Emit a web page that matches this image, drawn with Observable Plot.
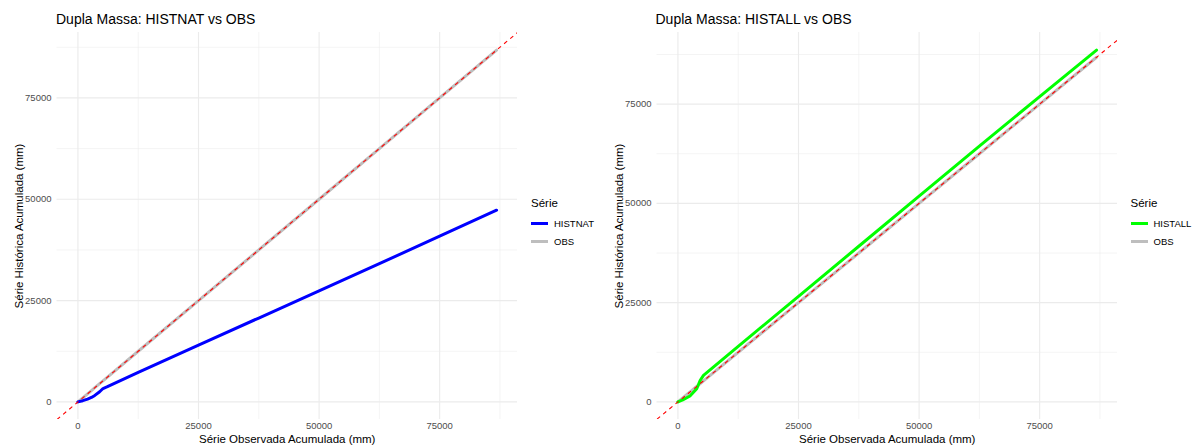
<!DOCTYPE html>
<html>
<head>
<meta charset="utf-8">
<script src="https://cdn.jsdelivr.net/npm/d3@7"></script>
<script src="https://cdn.jsdelivr.net/npm/@observablehq/plot@0.6"></script>
<style>
  html, body { margin: 0; padding: 0; background: #fff; }
  body { font-family: "Liberation Sans", Arial, Helvetica, sans-serif; }
  #wrap { position: relative; width: 1199px; height: 446px; overflow: hidden; }
  .panel { position: absolute; top: 0; width: 600px; height: 446px; }
  .title { position: absolute; left: 56px; top: 11px; font-size: 14px; color: #000; white-space: nowrap; }
  .legend { position: absolute; top: 197px; font-size: 9.5px; color: #000; }
  .legend .lt { font-size: 11.5px; margin-bottom: 6px; }
  .legend .row { display: flex; align-items: center; height: 17.5px; }
  .legend .key { width: 17px; height: 3px; margin-right: 6px; }
</style>
</head>
<body>
<div id="wrap"></div>
<script>
// Cumulative observed series (x axis, mm)
const obsCum = [0, 1000, 2000, 2800, 3500, 4500, 5200, 6000, 12500, 25000, 37500, 50000, 62500, 75000, 86800];
// OBS vs OBS (identical cumulative values)
const obsVsObs = [0, 1000, 2000, 2800, 3500, 4500, 5200, 6000, 12500, 25000, 37500, 50000, 62500, 75000, 86800];
// Cumulative HISTNAT
const histnatCum = [0, 300, 700, 1100, 1600, 2500, 3300, 3700, 7300, 14000, 20700, 27400, 34100, 40900, 47300];
// HISTALL paired with its own observed cumulative values
const obsCumAll = [0, 1000, 2500, 3900, 4600, 5300, 12500, 25000, 37500, 50000, 62500, 75000, 86800];
const histallCum = [0, 500, 1500, 3300, 5400, 6700, 14000, 26600, 39200, 51800, 64400, 76900, 88600];

const majorTicks = [0, 25000, 50000, 75000];
const minorTicks = [12500, 37500, 62500, 87500];

const panels = [
  {title: "Dupla Massa: HISTNAT vs OBS", name: "HISTNAT", color: "#0000FF",
   histX: obsCum, histY: histnatCum},
  {title: "Dupla Massa: HISTALL vs OBS", name: "HISTALL", color: "#00FF00",
   histX: obsCumAll, histY: histallCum}
];

const wrap = document.getElementById("wrap");
const font = '"Liberation Sans", Arial, Helvetica, sans-serif';

panels.forEach((p, i) => {
  const hist = p.histX.map((x, k) => ({x, y: p.histY[k], s: p.name}));
  const obs = obsCum.map((x, k) => ({x, y: obsVsObs[k], s: "OBS"}));
  const all = hist.concat(obs);
  const xmax = d3.max(all, d => d.x), xmin = d3.min(all, d => d.x);
  const ymax = d3.max(all, d => d.y), ymin = d3.min(all, d => d.y);
  const xd = [xmin - 0.05 * (xmax - xmin), xmax + 0.05 * (xmax - xmin)];
  const yd = [ymin - 0.05 * (ymax - ymin), ymax + 0.05 * (ymax - ymin)];

  const chart = Plot.plot({
    width: 600, height: 446,
    marginLeft: 56.5, marginRight: 83, marginTop: 32, marginBottom: 27,
    style: {fontFamily: font, background: "transparent", overflow: "visible"},
    x: {domain: xd},
    y: {domain: yd},
    marks: [
      Plot.gridX(minorTicks, {stroke: "#EBEBEB", strokeOpacity: 1, strokeWidth: 0.55}),
      Plot.gridY(minorTicks, {stroke: "#EBEBEB", strokeOpacity: 1, strokeWidth: 0.55}),
      Plot.gridX(majorTicks, {stroke: "#EBEBEB", strokeOpacity: 1, strokeWidth: 1.1}),
      Plot.gridY(majorTicks, {stroke: "#EBEBEB", strokeOpacity: 1, strokeWidth: 1.1}),
      Plot.axisX(majorTicks, {tickSize: 0, tickPadding: 3, fontSize: 9.5, fill: "#4D4D4D", label: null, tickFormat: d => String(d)}),
      Plot.axisY(majorTicks, {tickSize: 0, tickPadding: 5.5, fontSize: 9.5, fill: "#4D4D4D", label: null, tickFormat: d => String(d)}),
      Plot.line(obs, {x: "x", y: "y", stroke: "#BEBEBE", strokeWidth: 3, strokeLinejoin: "round"}),
      Plot.line(hist, {x: "x", y: "y", stroke: p.color, strokeWidth: 3, strokeLinejoin: "round"}),
      Plot.link([0], {x1: () => xd[0], y1: () => xd[0], x2: () => xd[1], y2: () => xd[1],
        stroke: "#FF0000", strokeWidth: 1.1, strokeDasharray: "4,4", clip: true}),
      Plot.text(["Série Observada Acumulada (mm)"], {frameAnchor: "bottom", lineAnchor: "bottom", dy: 23.5, fontSize: 11.5, fill: "#000"}),
      Plot.text(["Série Histórica Acumulada (mm)"], {frameAnchor: "left", textAnchor: "middle", lineAnchor: "middle", rotate: -90, dx: -38, fontSize: 11.5, fill: "#000"})
    ]
  });

  const div = document.createElement("div");
  div.className = "panel";
  div.style.left = (i * 599.5) + "px";
  div.appendChild(chart);

  const t = document.createElement("div");
  t.className = "title";
  t.textContent = p.title;
  div.appendChild(t);

  const lg = document.createElement("div");
  lg.className = "legend";
  lg.style.left = "531px";
  lg.innerHTML = `<div class="lt">Série</div>
    <div class="row"><div class="key" style="background:${p.color}"></div><span>${p.name}</span></div>
    <div class="row"><div class="key" style="background:#BEBEBE"></div><span>OBS</span></div>`;
  div.appendChild(lg);

  wrap.appendChild(div);
});
</script>
</body>
</html>
